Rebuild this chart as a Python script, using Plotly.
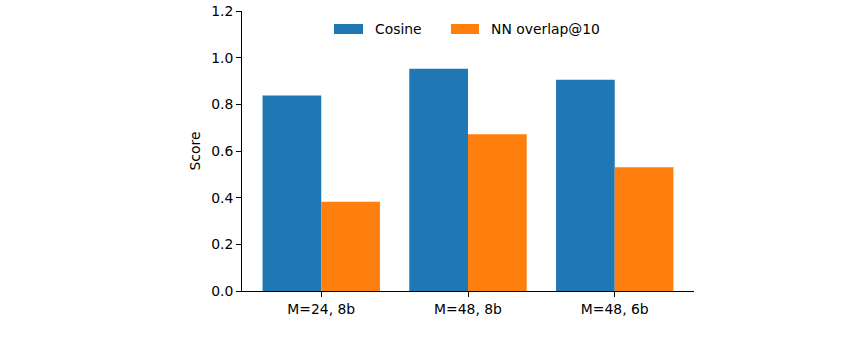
import plotly.graph_objects as go

categories = ["M=24, 8b", "M=48, 8b", "M=48, 6b"]
cosine = [0.838, 0.953, 0.905]
nn_overlap = [0.382, 0.672, 0.530]
series_names = ["Cosine", "NN overlap@10"]
colors = ["#1f77b4", "#ff7f0e"]
y_ticks = [0.0, 0.2, 0.4, 0.6, 0.8, 1.0, 1.2]

W, H = 860, 339
ML, MR, MT, MB = 242, 166, 11, 48
PW, PH = W - ML - MR, H - MT - MB

def px_x(p):
    return (p - ML) / PW

def px_y(p):
    return (H - MB - p) / PH

FONT = "DejaVu Sans"
FS = 13.9

fig = go.Figure()
for name, vals, col in zip(series_names, [cosine, nn_overlap], colors):
    fig.add_trace(go.Bar(x=list(range(len(categories))), y=vals, name=name,
                         marker=dict(color=col, line=dict(width=0)),
                         showlegend=False))

fig.update_layout(
    width=W, height=H,
    margin=dict(l=ML, r=MR, t=MT, b=MB, autoexpand=False),
    plot_bgcolor="white", paper_bgcolor="white",
    barmode="group", bargap=0.2, bargroupgap=0,
    font=dict(family=FONT, size=FS, color="black"),
    showlegend=False,
    xaxis=dict(range=[-0.54, 2.54], tickmode="array", automargin=False,
               tickvals=list(range(len(categories))), ticktext=categories,
               showline=True, linecolor="black", linewidth=1,
               ticks="outside", ticklen=5, tickcolor="black", tickwidth=1,
               showgrid=False, zeroline=False),
    yaxis=dict(range=[0, 1.2], tickmode="array", tickvals=y_ticks, automargin=False,
               ticktext=[f"{v:.1f}" for v in y_ticks],
               showline=True, linecolor="black", linewidth=1,
               ticks="outside", ticklen=5, tickcolor="black", tickwidth=1,
               showgrid=False, zeroline=False,
               title=dict(text="Score", standoff=7, font=dict(size=FS))),
)

# legend drawn as patches + text (matplotlib-style wide swatches)
legend_items = [(334, 363, 374), (451, 479, 490)]
for (x0, x1, tx), name, col in zip(legend_items, series_names, colors):
    fig.add_shape(type="rect", xref="paper", yref="paper",
                  x0=px_x(x0), x1=px_x(x1), y0=px_y(34), y1=px_y(24),
                  fillcolor=col, line=dict(width=0))
    fig.add_annotation(x=px_x(tx), y=px_y(29.5), xref="paper", yref="paper",
                       text=name, showarrow=False, xanchor="left", yanchor="middle",
                       borderpad=0,
                       font=dict(family=FONT, size=FS, color="black"))

fig.write_html("out.html")
